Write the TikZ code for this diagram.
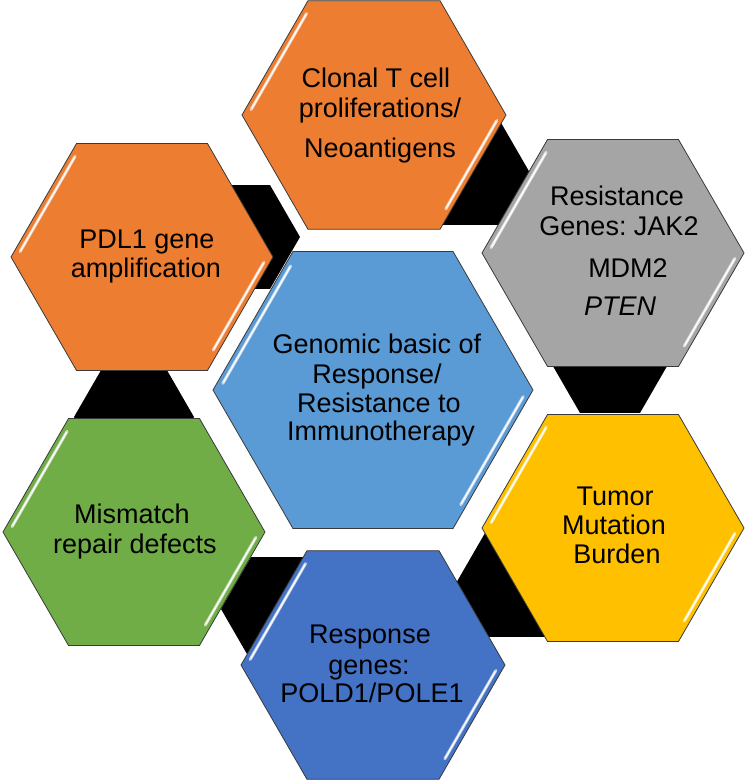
\documentclass[tikz,border=0pt]{standalone}
\usepackage{fontspec}
\setmainfont{Liberation Sans}
\frenchspacing
\usetikzlibrary{shapes.geometric,calc}
\definecolor{corange}{HTML}{ED7D31}
\definecolor{cgray}{HTML}{A5A5A5}
\definecolor{cyellow}{HTML}{FFC000}
\definecolor{cblue}{HTML}{5B9BD5}
\definecolor{cdblue}{HTML}{4472C4}
\definecolor{cgreen}{HTML}{70AD47}
\definecolor{edgec}{HTML}{3A3A3A}
\tikzset{
  hexa/.style={regular polygon, regular polygon sides=6, draw=edgec, line width=0.8pt, inner sep=0pt, outer sep=0pt},
  blackhex/.style={regular polygon, regular polygon sides=6, fill=black, draw=none, inner sep=0pt, outer sep=0pt, minimum size=120pt},
  hl/.style={line width=3pt, line cap=round},
  hlcore/.style={line width=1.2pt, line cap=round, draw=white},
  tx/.style={font=\fontsize{27}{30}\selectfont, anchor=base, inner sep=0pt, text=black}
}
\newcommand\hexcell[5]{%
  \node[hexa, fill=#5, minimum size={2*#4pt}] (#1) at (#2,#3) {};
  \pgfmathsetmacro\rr{#4-6}
  \coordinate (#1-l) at ($(#1.center)+(180:\rr pt)$);
  \coordinate (#1-tl) at ($(#1.center)+(120:\rr pt)$);
  \coordinate (#1-r) at ($(#1.center)+(0:\rr pt)$);
  \coordinate (#1-br) at ($(#1.center)+(300:\rr pt)$);
  \draw[hl, draw=#5!35!white] ($(#1-l)!0.05!(#1-tl)$) -- ($(#1-l)!0.93!(#1-tl)$);
  \draw[hlcore] ($(#1-l)!0.06!(#1-tl)$) -- ($(#1-l)!0.92!(#1-tl)$);
  \draw[hl, draw=#5!35!white] ($(#1-r)!0.05!(#1-br)$) -- ($(#1-r)!0.86!(#1-br)$);
  \draw[hlcore] ($(#1-r)!0.06!(#1-br)$) -- ($(#1-r)!0.85!(#1-br)$);
}
\begin{document}
\begin{tikzpicture}[x=1pt,y=-1pt]
\useasboundingbox (0,0) rectangle (746,782);
% black linking hexagons
\node[blackhex] (k1) at (240,237) {};
\node[blackhex] (k2) at (470,173) {};
\node[blackhex] (k3) at (610,361) {};
\node[blackhex] (k4) at (515,585) {};
\node[blackhex] (k5) at (281,609) {};
\node[blackhex] (k6) at (134,417) {};
% hexagons
\hexcell{clonal}{374}{115}{132}{corange}
\hexcell{pdl}{142}{257}{131}{corange}
\hexcell{resist}{613}{253}{131}{cgray}
\hexcell{core}{373}{390}{160}{cblue}
\hexcell{tmb}{613}{528}{131}{cyellow}
\hexcell{resp}{373}{665}{132}{cdblue}
\hexcell{mmr}{134}{532}{131}{cgreen}
% texts
\node[tx] (c1) at (376,87) {Clonal T cell};
\node[tx] (c2) at (380,117) {proliferations/};
\node[tx] (c3) at (380,157) {Neoantigens};
\node[tx] (p1) at (147,248) {PDL1 gene};
\node[tx] (p2) at (146,277) {amplification};
\node[tx] (g1) at (617,205) {Resistance};
\node[tx] (g2) at (619,235) {Genes: JAK2};
\node[tx] (g3) at (628,277) {MDM2};
\node[tx] (g4) at (620,315) {\itshape PTEN};
\node[tx] (m1) at (377,353) {Genomic basic of};
\node[tx] (m2) at (377,383) {Response/};
\node[tx] (m3) at (379,412) {Resistance to};
\node[tx] (m4) at (381,440) {Immunotherapy};
\node[tx] (y1) at (615,505) {Tumor};
\node[tx] (y2) at (614,534) {Mutation};
\node[tx] (y3) at (617,563) {Burden};
\node[tx] (r1) at (370,643) {Response};
\node[tx] (r2) at (369,674) {genes:};
\node[tx] (r3) at (372,702) {POLD1/POLE1};
\node[tx] (e1) at (132,523) {Mismatch};
\node[tx] (e2) at (135,553) {repair defects};
\end{tikzpicture}
\end{document}
